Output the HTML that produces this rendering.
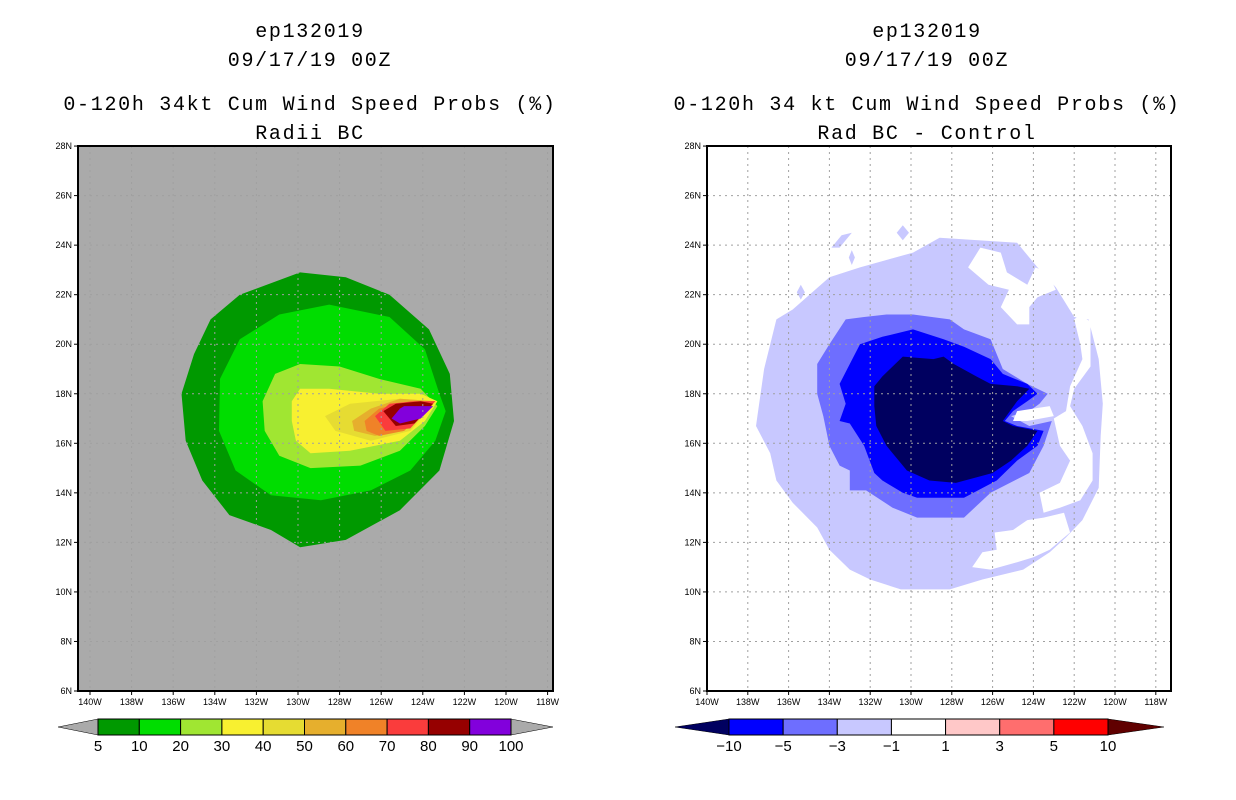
<!DOCTYPE html>
<html><head><meta charset="utf-8"><style>
html,body{margin:0;padding:0;background:#fff;}
svg{display:block;}
.t{font-family:"Liberation Mono",monospace;font-size:20px;letter-spacing:1.7px;fill:#000;}
.tk{font-family:"Liberation Sans",sans-serif;font-size:9px;fill:#000;}
.cb{font-family:"Liberation Sans",sans-serif;font-size:15px;fill:#000;}
</style></head><body>
<svg id="root" width="1236" height="800" viewBox="0 0 1236 800" xmlns="http://www.w3.org/2000/svg">
<g id="left"></g>
<g id="right"></g>
</svg>
<script>
const NS="http://www.w3.org/2000/svg";
const latTicks=[6,8,10,12,14,16,18,20,22,24,26,28];
const lonTicks=[140,138,136,134,132,130,128,126,124,122,120,118];
const probLevels=["5","10","20","30","40","50","60","70","80","90","100"];
const probColors=["#009900","#00dd00","#a0e632","#f8f030","#e6dc32","#e6af2d","#f08228","#fa3c3c","#960000","#8200dc"];
const diffLevels=["-10","-5","-3","-1","1","3","5","10"];
const diffColors=["#0000ff","#6e6eff","#c8c8ff","#ffffff","#ffc8c8","#ff6e6e","#ff0000"];
// left contours [lonW, latN]
const p5=[[134.2,21.0],[132.8,22.0],[129.9,22.9],[127.7,22.7],[125.6,22.0],[123.7,20.6],[122.7,18.8],[122.5,16.9],[123.2,14.9],[125.1,13.3],[127.7,12.1],[129.9,11.8],[131.3,12.5],[133.3,13.1],[134.6,14.5],[135.4,16.1],[135.6,18.0],[135.0,19.6]];
const p10=[[132.8,20.2],[130.9,21.2],[128.5,21.6],[125.6,21.1],[123.9,19.8],[123.2,18.0],[122.9,17.3],[123.4,16.1],[124.6,14.9],[126.5,14.1],[128.9,13.7],[131.3,13.9],[133.0,14.9],[133.8,16.5],[133.75,18.6]];
const p20=[[131.7,17.7],[131.1,18.8],[129.9,19.2],[128.0,19.1],[126.1,18.6],[124.1,18.2],[123.3,17.5],[123.9,16.7],[125.1,15.7],[127.0,15.1],[129.4,15.0],[130.9,15.5],[131.6,16.5]];
const p30=[[130.3,17.7],[129.9,18.2],[128.5,18.2],[126.1,18.0],[124.1,18.0],[123.3,17.7],[123.9,16.9],[125.1,16.1],[127.5,15.7],[129.4,15.6],[130.1,16.1],[130.3,16.9]];
const p40=[[128.7,17.1],[127.5,17.6],[125.1,17.8],[123.4,17.7],[124.6,16.5],[126.5,16.1],[128.2,16.5]];
const p50=[[127.4,16.9],[126.5,17.4],[125.1,17.8],[123.4,17.7],[124.9,16.5],[126.3,16.3],[127.3,16.5]];
const p60=[[126.8,16.9],[126.1,17.4],[124.6,17.7],[123.4,17.7],[124.9,16.5],[126.1,16.3],[126.7,16.5]];
const p70=[[126.3,17.1],[125.6,17.6],[124.4,17.7],[123.4,17.7],[124.6,16.6],[125.8,16.5]];
const p80=[[125.9,17.3],[125.3,17.6],[124.1,17.7],[123.5,17.6],[124.4,16.8],[125.3,16.7]];
const p90=[[125.5,17.0],[125.1,17.4],[124.9,17.5],[123.5,17.5],[124.1,17.0],[125.1,16.8]];
// right contours
const dLight=[[137.6,16.7],[137.2,19.0],[136.6,21.0],[135.8,21.4],[134.0,22.7],[132.5,23.1],[129.9,23.7],[128.6,24.3],[124.8,24.1],[123.8,23.1],[122.9,22.3],[122.0,21.1],[121.3,21.0],[120.8,19.4],[120.6,17.6],[120.7,16.3],[120.8,14.2],[121.6,12.9],[122.4,12.2],[123.2,11.6],[124.5,10.9],[126.5,10.5],[128.1,10.1],[130.5,10.1],[132.0,10.5],[133.0,10.9],[134.0,11.7],[134.6,12.6],[135.8,13.6],[136.6,14.5],[136.9,15.6]];
const dPatch1=[[133.9,23.9],[133.4,24.4],[132.9,24.5],[133.5,23.9]];
const dPatch2=[[130.4,24.8],[130.1,24.5],[130.4,24.2],[130.7,24.5]];
const dPatch3=[[135.4,22.4],[135.2,22.1],[135.4,21.8],[135.6,22.1]];
const dPatch4=[[132.9,23.8],[132.75,23.5],[132.9,23.2],[133.05,23.5]];
const holeA=[[127.2,23.1],[126.6,23.9],[125.6,23.7],[125.3,22.9],[124.3,22.4],[123.9,23.1],[123.3,22.9],[122.9,22.2],[123.8,21.9],[124.2,21.5],[124.2,20.8],[124.8,20.8],[125.6,21.5],[125.2,22.2],[126.2,22.4]];
const holeB=[[122.0,21.0],[121.7,21.2],[121.2,20.9],[121.2,19.1],[122.0,18.2],[122.2,17.5],[121.6,16.7],[121.1,15.6],[121.1,14.5],[121.7,13.7],[122.7,13.4],[123.5,13.2],[123.7,14.0],[122.7,14.4],[122.2,15.3],[122.7,15.9],[123.0,17.0],[122.4,17.3],[122.2,18.3],[121.6,19.4],[121.7,20.0]];
const holeC=[[127.0,11.0],[126.5,11.6],[125.8,11.7],[125.9,12.4],[125.0,12.5],[124.3,12.9],[123.5,13.0],[122.5,13.2],[122.2,12.4],[123.2,11.7],[124.0,11.4],[124.8,11.2],[126.1,10.9]];
const notch=[[124.8,17.3],[123.2,17.5],[123.0,17.1],[124.3,16.9],[125.0,16.9]];
const dMed=[[134.6,19.2],[134.0,20.0],[133.2,21.0],[132.3,21.1],[131.2,21.2],[129.9,21.2],[128.1,21.0],[127.4,20.6],[126.1,20.2],[125.8,19.6],[125.5,19.0],[124.3,18.4],[123.3,18.0],[123.7,17.6],[124.2,17.3],[125.1,17.1],[124.2,16.7],[123.1,16.9],[123.5,15.9],[124.2,14.8],[126.1,14.0],[127.4,13.0],[129.7,13.0],[130.9,13.4],[132.2,14.1],[133.0,14.1],[133.0,14.9],[133.5,15.1],[134.0,15.9],[134.3,17.1],[134.6,18.0]];
const dBlue=[[133.5,18.4],[133.0,19.2],[132.5,20.0],[131.4,20.3],[129.9,20.6],[128.4,20.2],[127.4,19.9],[126.1,19.4],[125.5,18.8],[124.3,18.4],[123.8,18.0],[124.3,17.7],[125.0,17.3],[125.4,16.9],[124.8,16.7],[123.5,16.5],[123.8,15.9],[124.8,15.3],[125.8,14.5],[127.4,13.8],[129.7,13.8],[130.4,14.0],[131.4,14.5],[131.8,14.8],[132.3,15.9],[133.0,16.8],[133.5,16.9],[133.2,17.6]];
const dDark=[[131.8,18.3],[131.4,18.7],[130.4,19.5],[128.9,19.4],[128.4,19.5],[127.9,19.2],[126.8,18.7],[126.1,18.4],[124.8,18.3],[124.2,18.2],[124.8,17.7],[125.5,16.9],[125.0,16.7],[123.8,16.5],[124.3,15.9],[125.1,15.3],[126.0,14.8],[127.8,14.4],[129.1,14.5],[130.2,14.9],[131.2,15.9],[131.7,16.7],[131.8,17.5]];

function mk(parent,tag,attrs){const e=document.createElementNS(NS,tag);for(const k in attrs)e.setAttribute(k,attrs[k]);parent.appendChild(e);return e;}
function panel(g,cfg){
  const X=lon=>cfg.x140+(140-lon)*cfg.dx;
  const Y=lat=>691-(lat-6)*24.77;
  const pts=a=>a.map(p=>X(p[0]).toFixed(1)+","+Y(p[1]).toFixed(1)).join(" ");
  const bg=mk(g,"rect",{x:cfg.l,y:146,width:cfg.r-cfg.l,height:545,fill:cfg.bg});
  
  
  cfg.fills.forEach(f=>{
    const p=mk(g,"polygon",{points:pts(f[0]),fill:f[1]});
    
    
  });
  lonTicks.forEach(lon=>{
    const x=X(lon);
    if(x>cfg.l+2&&x<cfg.r-2){const l=mk(g,"line",{x1:x,y1:146,x2:x,y2:691,stroke:"#a0a0a0","stroke-width":1,"stroke-dasharray":"2,4"});
    
    }
    mk(g,"line",{x1:x,y1:691,x2:x,y2:695,stroke:"#000"});
    const t=mk(g,"text",{x:x,y:705,"text-anchor":"middle",class:"tk"});t.textContent=lon+"W";
    
    
  });
  latTicks.forEach(lat=>{
    const y=Y(lat);
    if(y>148&&y<689){const l=mk(g,"line",{x1:cfg.l,y1:y,x2:cfg.r,y2:y,stroke:"#a0a0a0","stroke-width":1,"stroke-dasharray":"2,4"});
    
    }
    mk(g,"line",{x1:cfg.l-4,y1:y,x2:cfg.l,y2:y,stroke:"#000"});
    const t=mk(g,"text",{x:cfg.l-6,y:y+3,"text-anchor":"end",class:"tk"});t.textContent=lat+"N";
    
    
  });
  const fr=mk(g,"rect",{x:cfg.l,y:146,width:cfg.r-cfg.l,height:545,fill:"none",stroke:"#000","stroke-width":2});
  
  
  cfg.titles.forEach((s,i)=>{
    const t=mk(g,"text",{x:cfg.cx,y:[37,66,110,139][i],"text-anchor":"middle",class:"t"});t.textContent=s;
    
    
  });
  // colorbar
  const cb=cfg.cb, n=cb.colors.length, w=(cb.x1-cb.x0)/n;
  const lt=mk(g,"polygon",{points:`${cb.t0},727 ${cb.x0},719 ${cb.x0},735`,fill:cb.lc,stroke:"#000","stroke-width":0.5});
  
  
  const rt=mk(g,"polygon",{points:`${cb.t1},727 ${cb.x1},719 ${cb.x1},735`,fill:cb.rc,stroke:"#000","stroke-width":0.5});
  
  
  cb.colors.forEach((c,i)=>{
    const r=mk(g,"rect",{x:cb.x0+i*w,y:719,width:w,height:16,fill:c,stroke:"#000","stroke-width":1});
    
    
  });
  cb.labels.forEach((s,i)=>{
    const t=mk(g,"text",{x:cb.x0+i*w,y:751,"text-anchor":"middle",class:"cb"});t.textContent=s.replace("-","\u2212");
    
    
  });
}
panel(document.getElementById("left"),{l:78,r:553,x140:90,dx:20.8,bg:"#aaaaaa",cx:310,
  titles:["ep132019","09/17/19 00Z","0-120h 34kt Cum Wind Speed Probs (%)","Radii BC"],
  fills:[[p5,probColors[0],"prob-5"],[p10,probColors[1],"prob-10"],[p20,probColors[2],"prob-20"],[p30,probColors[3],"prob-30"],[p40,probColors[4],"prob-40"],[p50,probColors[5],"prob-50"],[p60,probColors[6],"prob-60"],[p70,probColors[7],"prob-70"],[p80,probColors[8],"prob-80"],[p90,probColors[9],"prob-90"]],
  cb:{x0:98,x1:511,t0:58,t1:553,colors:probColors,labels:probLevels,lc:"#aaaaaa",rc:"#aaaaaa"}});
panel(document.getElementById("right"),{l:707,r:1171,x140:707,dx:20.4,bg:"#ffffff",cx:927,
  titles:["ep132019","09/17/19 00Z","0-120h 34 kt Cum Wind Speed Probs (%)","Rad BC - Control"],
  fills:[[dLight,"#c8c8ff","diff-light"],[dPatch1,"#c8c8ff","diff-patch"],[dPatch2,"#c8c8ff","diff-patch"],[dPatch3,"#c8c8ff","diff-patch"],[dPatch4,"#c8c8ff","diff-patch"],[holeA,"#ffffff","diff-hole"],[holeB,"#ffffff","diff-hole"],[holeC,"#ffffff","diff-hole"],[dMed,"#6e6eff","diff-medium"],[notch,"#ffffff","diff-notch"],[dBlue,"#0000ff","diff-blue"],[dDark,"#000060","diff-dark"]],
  cb:{x0:729,x1:1108,t0:675,t1:1164,colors:diffColors,labels:diffLevels,lc:"#000060",rc:"#600000"}});
</script>
</body></html>
